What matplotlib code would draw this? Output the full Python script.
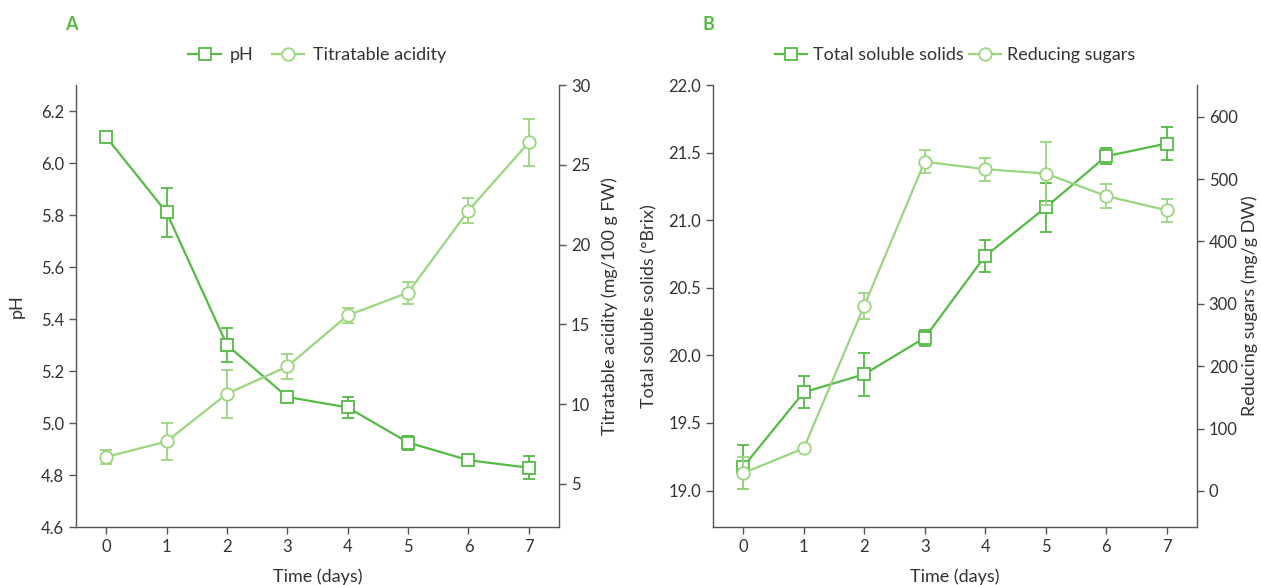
import numpy as np
import matplotlib.pyplot as plt
from matplotlib.lines import Line2D

plt.rcParams['font.family'] = ['Lato', 'DejaVu Sans']

days = [0, 1, 2, 3, 4, 5, 6, 7]

ph = [6.10, 5.81, 5.30, 5.10, 5.06, 4.925, 4.857, 4.828]
ph_err = [0.01, 0.094, 0.064, 0.01, 0.04, 0.027, 0.01, 0.045]
acidity = [6.69, 7.66, 10.65, 12.36, 15.56, 16.99, 22.13, 26.40]
acidity_err = [0.46, 1.15, 1.5, 0.78, 0.48, 0.69, 0.8, 1.5]

tss = [19.175, 19.727, 19.86, 20.13, 20.735, 21.094, 21.473, 21.567]
tss_err = [0.16, 0.12, 0.16, 0.06, 0.12, 0.18, 0.06, 0.12]
sugars = [28.5, 68.3, 297, 528, 516, 509, 473, 450]
sugars_err = [26, 5, 21, 18, 18.5, 51, 18.6, 18]

dark = '#55bb45'
light = '#9ad67e'
txt = '#333333'
spine = '#555555'


def style_axes(ax, right=False):
    ax.spines['top'].set_visible(False)
    for s in ['left', 'bottom', 'right']:
        ax.spines[s].set_color(spine)
        ax.spines[s].set_linewidth(1.0)
    if not right:
        ax.spines['right'].set_visible(False)
    ax.tick_params(colors=spine, labelcolor=txt, labelsize=12, length=5, width=1, direction='out')


def draw(ax, y, err, color, marker):
    ax.errorbar(days, y, yerr=err, color=color, marker=marker, markersize=9,
                markerfacecolor='white', markeredgecolor=color, markeredgewidth=1.3,
                linewidth=1.6, elinewidth=1.3, capsize=4, capthick=1.3)


def handle(color, marker, label):
    return Line2D([], [], color=color, marker=marker, markersize=9, markerfacecolor='white',
                  markeredgecolor=color, markeredgewidth=1.3, linewidth=1.6, label=label)


fig = plt.figure(figsize=(12.61, 5.85), dpi=100)

# panel A
ax1 = fig.add_axes([0.0603, 0.0991, 0.383, 0.7556])
ax2 = ax1.twinx()
ax2.patch.set_visible(False)
draw(ax1, ph, ph_err, dark, 's')
draw(ax2, acidity, acidity_err, light, 'o')
ax1.set_xlim(-0.5, 7.5)
ax1.set_ylim(4.6, 6.3)
ax1.set_yticks(np.arange(4.6, 6.21, 0.2))
ax1.set_yticklabels(['%.1f' % v for v in np.arange(4.6, 6.21, 0.2)])
ax2.set_ylim(2.3, 30)
ax2.set_yticks([5, 10, 15, 20, 25, 30])
ax1.set_xticks(days)
style_axes(ax1)
style_axes(ax2, right=True)
ax2.spines['left'].set_visible(False)
ax2.spines['bottom'].set_visible(False)
ax1.set_xlabel('Time (days)', fontsize=13, color=txt, labelpad=10)
ax1.set_ylabel('pH', fontsize=13, color=txt, labelpad=12)
ax2.set_ylabel('Titratable acidity (mg/100 g FW)', fontsize=13, color=txt, labelpad=8)
ax1.legend(handles=[handle(dark, 's', 'pH'), handle(light, 'o', 'Titratable acidity')],
           loc='center', bbox_to_anchor=(0.5, 1.068), ncol=2,
           frameon=False, fontsize=13, handlelength=1.8, columnspacing=1.0,
           handletextpad=0.5, labelcolor=txt)
fig.text(0.052, 0.958, 'A', color=dark, fontsize=13, fontweight='bold', va='center')

# panel B
ax3 = fig.add_axes([0.5654, 0.0991, 0.3838, 0.7556])
ax4 = ax3.twinx()
ax4.patch.set_visible(False)
draw(ax3, tss, tss_err, dark, 's')
draw(ax4, sugars, sugars_err, light, 'o')
ax3.set_xlim(-0.5, 7.5)
ax3.set_ylim(18.73, 22.0)
ax3.set_yticks(np.arange(19.0, 22.01, 0.5))
ax3.set_yticklabels(['%.1f' % v for v in np.arange(19.0, 22.01, 0.5)])
ax4.set_ylim(-58, 651)
ax4.set_yticks([0, 100, 200, 300, 400, 500, 600])
ax3.set_xticks(days)
style_axes(ax3)
style_axes(ax4, right=True)
ax4.spines['left'].set_visible(False)
ax4.spines['bottom'].set_visible(False)
ax3.set_xlabel('Time (days)', fontsize=13, color=txt, labelpad=10)
ax3.set_ylabel('Total soluble solids (°Brix)', fontsize=13, color=txt, labelpad=8)
ax4.set_ylabel('Reducing sugars (mg/g DW)', fontsize=13, color=txt, labelpad=3)
ax3.legend(handles=[handle(dark, 's', 'Total soluble solids'), handle(light, 'o', 'Reducing sugars')],
           loc='center', bbox_to_anchor=(0.5, 1.068), ncol=2,
           frameon=False, fontsize=13, handlelength=1.8, columnspacing=0.3,
           handletextpad=0.3, labelcolor=txt)
fig.text(0.557, 0.958, 'B', color=dark, fontsize=13, fontweight='bold', va='center')

fig.savefig('out.png', dpi=100)
